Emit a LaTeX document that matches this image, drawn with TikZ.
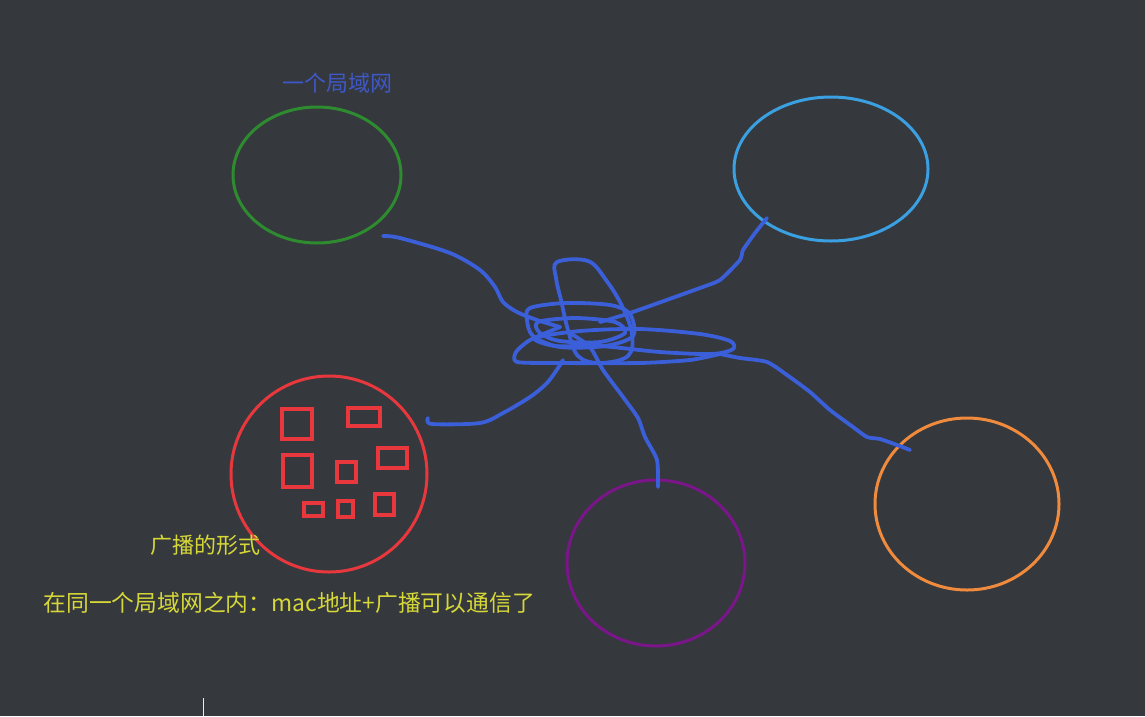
\documentclass[tikz,border=0pt]{standalone}
\usepackage{fontspec}
\newfontfamily\cjk{Noto Sans CJK SC}
\usetikzlibrary{shapes.geometric}

\definecolor{bgdark}{HTML}{35383C}
\definecolor{lanGreen}{HTML}{2E8B30}
\definecolor{lanSky}{HTML}{3AA0E2}
\definecolor{lanRed}{HTML}{E8383E}
\definecolor{lanPurple}{HTML}{7A168A}
\definecolor{lanOrange}{HTML}{F08A3C}
\definecolor{wire}{HTML}{3B5FD8}
\definecolor{noteYellow}{HTML}{D6D838}
\definecolor{noteBlue}{HTML}{3F58C8}

\tikzset{
    lan/.style={ellipse, draw, line width=3pt, inner sep=0pt},
    pc/.style={draw=lanRed, line width=3.2pt},
    scrib/.style={draw=wire, line width=3.8pt, line cap=round, line join=round},
    note/.style={font=\cjk\fontsize{22}{22}\selectfont}
}

\begin{document}
\begin{tikzpicture}[x=1pt, y=-1pt]

    \fill[bgdark] (0,0) rectangle (1145,716);
    \useasboundingbox (0,0) rectangle (1145,716);

    % the five networks
    \node[lan, draw=lanGreen, minimum width=168pt, minimum height=136pt] (lanG) at (317,175) {};
    \node[lan, draw=lanSky, minimum width=194pt, minimum height=144pt] (lanS) at (831,169) {};
    \node[lan, draw=lanRed, minimum width=196pt, minimum height=196pt] (lanR) at (329,474) {};
    \node[lan, draw=lanPurple, minimum width=178pt, minimum height=166pt] (lanP) at (656,563) {};
    \node[lan, draw=lanOrange, minimum width=184pt, minimum height=172pt] (lanO) at (967,504) {};

    % hosts inside the red one
    \draw[pc] (282,409) rectangle (312,439);
    \draw[pc] (348,408) rectangle (380,426);
    \draw[pc] (283,455) rectangle (312,487);
    \draw[pc] (337,462) rectangle (356,482);
    \draw[pc] (378,448) rectangle (407,468);
    \draw[pc] (304,503) rectangle (323,516);
    \draw[pc] (338,501) rectangle (353,517);
    \draw[pc] (375,494) rectangle (394,515);

    % wire ends
    \coordinate (endG) at (383,236);
    \coordinate (endS) at (767,218);
    \coordinate (endR) at (428,418);
    \coordinate (endP) at (658,487);
    \coordinate (endO) at (910,450);

    % the tangle in the middle
    \draw[scrib] plot[smooth cycle, tension=0.6] coordinates {(557,262) (588,261) (606,280) (622,306) (632,334) (628,356) (600,363) (578,356) (568,330) (561,300) (556,278)};
    \draw[scrib] plot[smooth cycle] coordinates {(530,308) (565,303) (610,305) (630,314) (633,336) (605,346) (560,347) (533,336) (527,320)};
    \draw[scrib] plot[smooth cycle] coordinates {(538,322) (575,318) (615,322) (625,333) (600,342) (560,341) (540,333)};
    \draw[scrib] plot[smooth cycle] coordinates {(535,338) (580,331) (640,329) (700,334) (730,341) (733,349) (712,354) (660,352) (600,346) (555,346)};
    \draw[scrib] plot[smooth, tension=0.4] coordinates {(560,327) (530,340) (516,352) (517,362) (560,363) (640,363) (690,360) (720,354)};

    % wires out to each network
    \draw[scrib] plot[smooth, tension=0.5] coordinates {(endG) (400,238) (450,253) (480,270) (495,287) (503,302) (517,312) (537,320) (560,327)};
    \draw[scrib] plot[smooth, tension=0.3] coordinates {(endS) (755,233) (743,250) (740,260) (720,280) (700,288) (630,313) (600,322)};
    \draw[scrib] plot[smooth, tension=0.5] coordinates {(endR) (432,424) (480,423) (503,413) (530,397) (547,383) (558,368) (563,360)};
    \draw[scrib] plot[smooth, tension=0.4] coordinates {(570,333) (590,347) (603,370) (623,397) (638,418) (645,437) (657,460) (endP)};
    \draw[scrib] plot[smooth, tension=0.4] coordinates {(720,354) (740,358) (767,362) (787,375) (810,392) (830,410) (853,427) (867,437) (880,439) (897,445) (endO)};

    % labels
    \node[note, text=noteBlue] (tLan) at (337,83) {一个局域网};
    \node[note, text=noteYellow] (tCast) at (205,545) {广播的形式};
    \node[note, text=noteYellow, anchor=west, font=\cjk\fontsize{22.8}{22.8}\selectfont] (tRule) at (40,603) {在同一个局域网之内：mac地址+广播可以通信了};

    % text cursor
    \draw[white!85!gray, line width=1pt] (203,698) -- (203,716);
\end{tikzpicture}
\end{document}
